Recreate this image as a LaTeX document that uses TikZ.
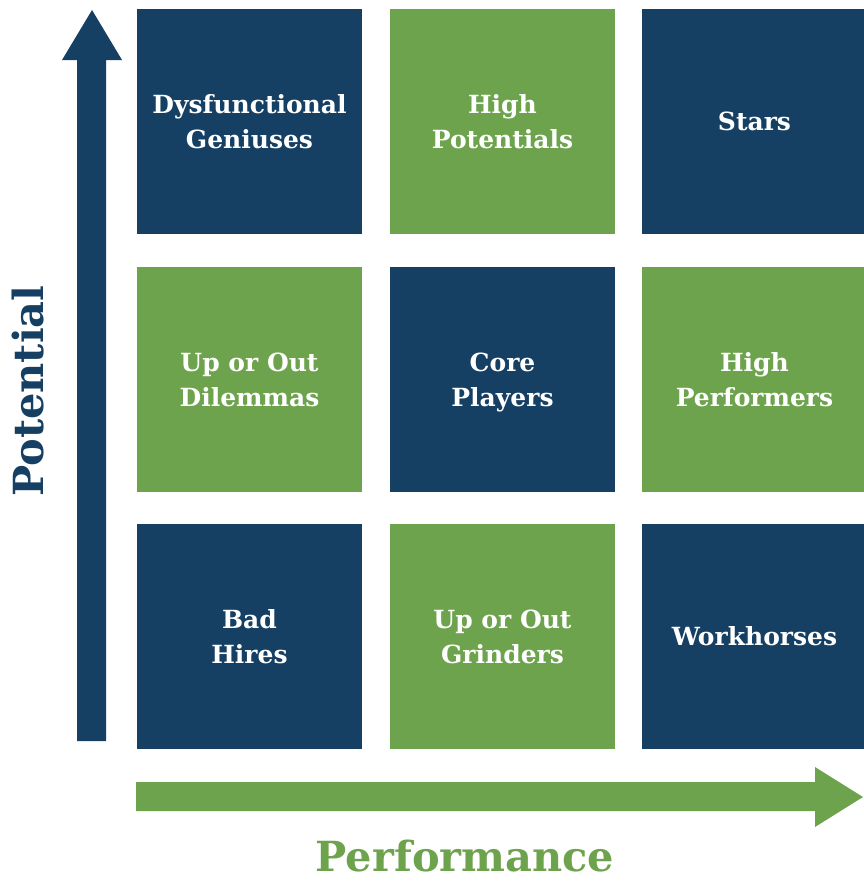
\documentclass[tikz,border=0pt]{standalone}
\usepackage{fontspec}
\setmainfont{DejaVu Serif}
\definecolor{navy}{RGB}{21,63,99}
\definecolor{leaf}{RGB}{109,163,77}

\tikzset{
  cell/.style={minimum width=225pt, minimum height=225pt, inner sep=0pt,
    text=white, align=center, font=\bfseries\fontsize{25}{35}\selectfont},
  navycell/.style={cell, fill=navy},
  leafcell/.style={cell, fill=leaf},
  axistitle/.style={inner sep=0pt, font=\bfseries\fontsize{41.5}{42}\selectfont},
}

\begin{document}
\begin{tikzpicture}[x=1pt, y=-1pt]
    \useasboundingbox (0,0) rectangle (863,881);
    % Nine boxes of the grid (right column runs off the edge)
    \node[navycell] (genius) at (249.5,121.5) {Dysfunctional\\Geniuses};
    \node[leafcell] (highpot) at (502.5,121.5) {High\\Potentials};
    \node[navycell] (stars) at (754.5,121.5) {Stars};
    \node[leafcell] (dilemma) at (249.5,379.5) {Up or Out\\Dilemmas};
    \node[navycell] (core) at (502.5,379.5) {Core\\\smash{Players}};
    \node[leafcell] (highperf) at (754.5,379.5) {High\\Performers};
    \node[navycell] (bad) at (249.5,636.5) {Bad\\Hires};
    \node[leafcell] (grinder) at (502.5,636.5) {Up or Out\\Grinders};
    \node[navycell] (workhorse) at (754.5,636.5) {Workhorses};

    % Axis arrows
    \fill[navy] (77,741) -- (77,60) -- (62,60) -- (92,10) -- (122,60)
        -- (106,60) -- (106,741) -- cycle;
    \fill[leaf] (136,782) -- (815,782) -- (815,767) -- (863,797) -- (815,827)
        -- (815,811) -- (136,811) -- cycle;

    % Axis titles
    \node[axistitle, rotate=90, text=navy] (potential) at (28,391) {Potential};
    \node[axistitle, text=leaf] (performance) at (465,856) {Performance};
\end{tikzpicture}
\end{document}
